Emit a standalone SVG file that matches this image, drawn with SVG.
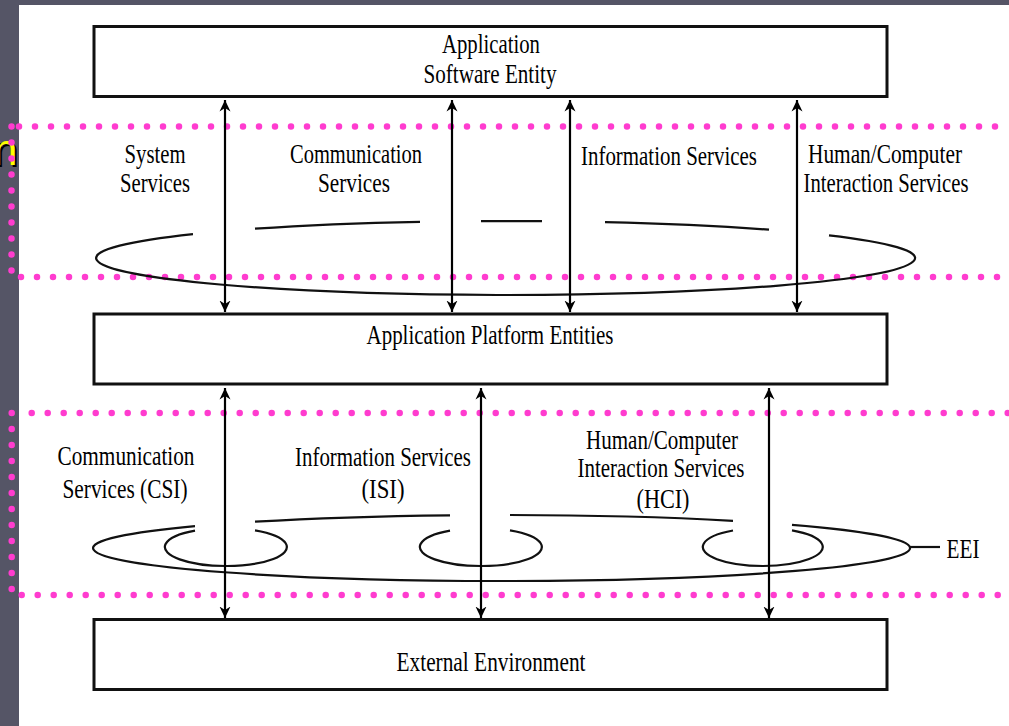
<svg xmlns="http://www.w3.org/2000/svg" width="1009" height="726" viewBox="0 0 1009 726">
  <style>
    .box { fill: #ffffff; stroke: #111111; stroke-width: 3; }
    .lbl { font-family: "Liberation Serif", "Times New Roman", serif; font-size: 27px; fill: #000000; text-anchor: middle; }
    .dots { fill: none; stroke: #ff3ccf; stroke-width: 6.5; stroke-linecap: round; stroke-dasharray: 0 16; }
    .cloud { fill: none; stroke: #111111; stroke-width: 2.2; }
    .arrow { fill: none; stroke: #000000; stroke-width: 2.2; marker-start: url(#ah); marker-end: url(#ah); }
  </style>
  <defs>
    <marker id="ah" viewBox="0 0 12 12" refX="11.5" refY="6" markerWidth="12" markerHeight="12" markerUnits="userSpaceOnUse" orient="auto-start-reverse">
      <path d="M0,0.5 L11.5,6 L0,11.5 L3.5,6 z" fill="#000000"/>
    </marker>
  </defs>

  <!-- slide background and white canvas -->
  <rect x="0" y="0" width="1009" height="726" fill="#555566"/>
  <rect x="19" y="5" width="990" height="721" fill="#ffffff"/>

  <!-- clipped slide title letter at left edge -->
  <text x="-5" y="167" font-family="Liberation Sans, Arial, sans-serif" font-size="44" fill="#000000">n</text>
  <text x="-7" y="165" font-family="Liberation Sans, Arial, sans-serif" font-size="44" fill="#ffff00">n</text>

  <!-- dotted band outlines -->
  <g id="bands">
    <line class="dots" x1="11.5" y1="126.5" x2="11.5" y2="271"/>
    <line class="dots" x1="19" y1="126.5" x2="1009" y2="126.5"/>
    <line class="dots" x1="21" y1="277" x2="1009" y2="277"/>
    <line class="dots" x1="11.7" y1="413" x2="11.7" y2="590"/>
    <line class="dots" x1="31.7" y1="413" x2="1009" y2="413"/>
    <line class="dots" x1="21.7" y1="595" x2="1009" y2="595"/>
  </g>

  <!-- service clouds -->
  <g id="upper-cloud">
    <path class="cloud" d="M193,234.1 A409.5,37 0 1 0 829,235.3"/>
    <path class="cloud" d="M255,228.7 A409.5,37 0 0 1 420,221.8"/>
    <path class="cloud" d="M481,221.1 A409.5,37 0 0 1 542,221.2"/>
    <path class="cloud" d="M605,222.1 A409.5,37 0 0 1 769,229.7"/>
  </g>
  <g id="lower-cloud">
    <path class="cloud" d="M195,526.2 A408.5,33 0 1 0 792,524.8"/>
    <path class="cloud" d="M255,521.7 A408.5,33 0 0 1 450,515.3"/>
    <path class="cloud" d="M510,515 A408.5,33 0 0 1 733,520.8"/>
    <path class="cloud" d="M195,530.6 A61,19 0 1 0 255,530.3"/>
    <path class="cloud" d="M450,530.6 A61,19 0 1 0 510,530.3"/>
    <path class="cloud" d="M733,530.5 A60,19 0 1 0 792,530.4"/>
    <line class="cloud" x1="910" y1="547" x2="940" y2="547"/>
  </g>

  <!-- entities -->
  <g id="app-software-entity">
    <rect class="box" x="94" y="26.5" width="793" height="70"/>
    <text class="lbl" x="491" y="53" textLength="98" lengthAdjust="spacingAndGlyphs">Application</text>
    <text class="lbl" x="490" y="83" textLength="133" lengthAdjust="spacingAndGlyphs">Software Entity</text>
  </g>
  <g id="app-platform-entities">
    <rect class="box" x="94" y="314" width="793" height="70"/>
    <text class="lbl" x="490" y="344" textLength="247" lengthAdjust="spacingAndGlyphs">Application Platform Entities</text>
  </g>
  <g id="external-environment">
    <rect class="box" x="94" y="619.5" width="793" height="70"/>
    <text class="lbl" x="491" y="671" textLength="189" lengthAdjust="spacingAndGlyphs">External Environment</text>
  </g>

  <!-- upper band labels -->
  <g id="system-services">
    <text class="lbl" x="155" y="163" textLength="61" lengthAdjust="spacingAndGlyphs">System</text>
    <text class="lbl" x="155" y="192" textLength="70" lengthAdjust="spacingAndGlyphs">Services</text>
  </g>
  <g id="communication-services">
    <text class="lbl" x="356" y="163" textLength="132" lengthAdjust="spacingAndGlyphs">Communication</text>
    <text class="lbl" x="354" y="192" textLength="72" lengthAdjust="spacingAndGlyphs">Services</text>
  </g>
  <g id="information-services">
    <text class="lbl" x="669" y="165" textLength="176" lengthAdjust="spacingAndGlyphs">Information Services</text>
  </g>
  <g id="hci-services">
    <text class="lbl" x="885" y="163" textLength="154" lengthAdjust="spacingAndGlyphs">Human/Computer</text>
    <text class="lbl" x="886" y="192" textLength="165" lengthAdjust="spacingAndGlyphs">Interaction Services</text>
  </g>

  <!-- lower band labels -->
  <g id="csi">
    <text class="lbl" x="126" y="465" textLength="137" lengthAdjust="spacingAndGlyphs">Communication</text>
    <text class="lbl" x="125" y="498" textLength="125" lengthAdjust="spacingAndGlyphs">Services (CSI)</text>
  </g>
  <g id="isi">
    <text class="lbl" x="383" y="466" textLength="176" lengthAdjust="spacingAndGlyphs">Information Services</text>
    <text class="lbl" x="383" y="498" textLength="43" lengthAdjust="spacingAndGlyphs">(ISI)</text>
  </g>
  <g id="hci">
    <text class="lbl" x="662" y="449" textLength="152" lengthAdjust="spacingAndGlyphs">Human/Computer</text>
    <text class="lbl" x="661" y="477" textLength="167" lengthAdjust="spacingAndGlyphs">Interaction Services</text>
    <text class="lbl" x="663" y="508" textLength="53" lengthAdjust="spacingAndGlyphs">(HCI)</text>
  </g>
  <g id="eei">
    <text class="lbl" x="963" y="558" textLength="33" lengthAdjust="spacingAndGlyphs">EEI</text>
  </g>

  <!-- interface connectors -->
  <g id="connectors">
    <line class="arrow" x1="225" y1="100" x2="225" y2="312"/>
    <line class="arrow" x1="452" y1="100" x2="452" y2="312"/>
    <line class="arrow" x1="570" y1="100" x2="570" y2="312"/>
    <line class="arrow" x1="797" y1="100" x2="797" y2="312"/>
    <line class="arrow" x1="225" y1="388" x2="225" y2="618"/>
    <line class="arrow" x1="481" y1="388" x2="481" y2="618"/>
    <line class="arrow" x1="769" y1="388" x2="769" y2="618"/>
  </g>
</svg>
